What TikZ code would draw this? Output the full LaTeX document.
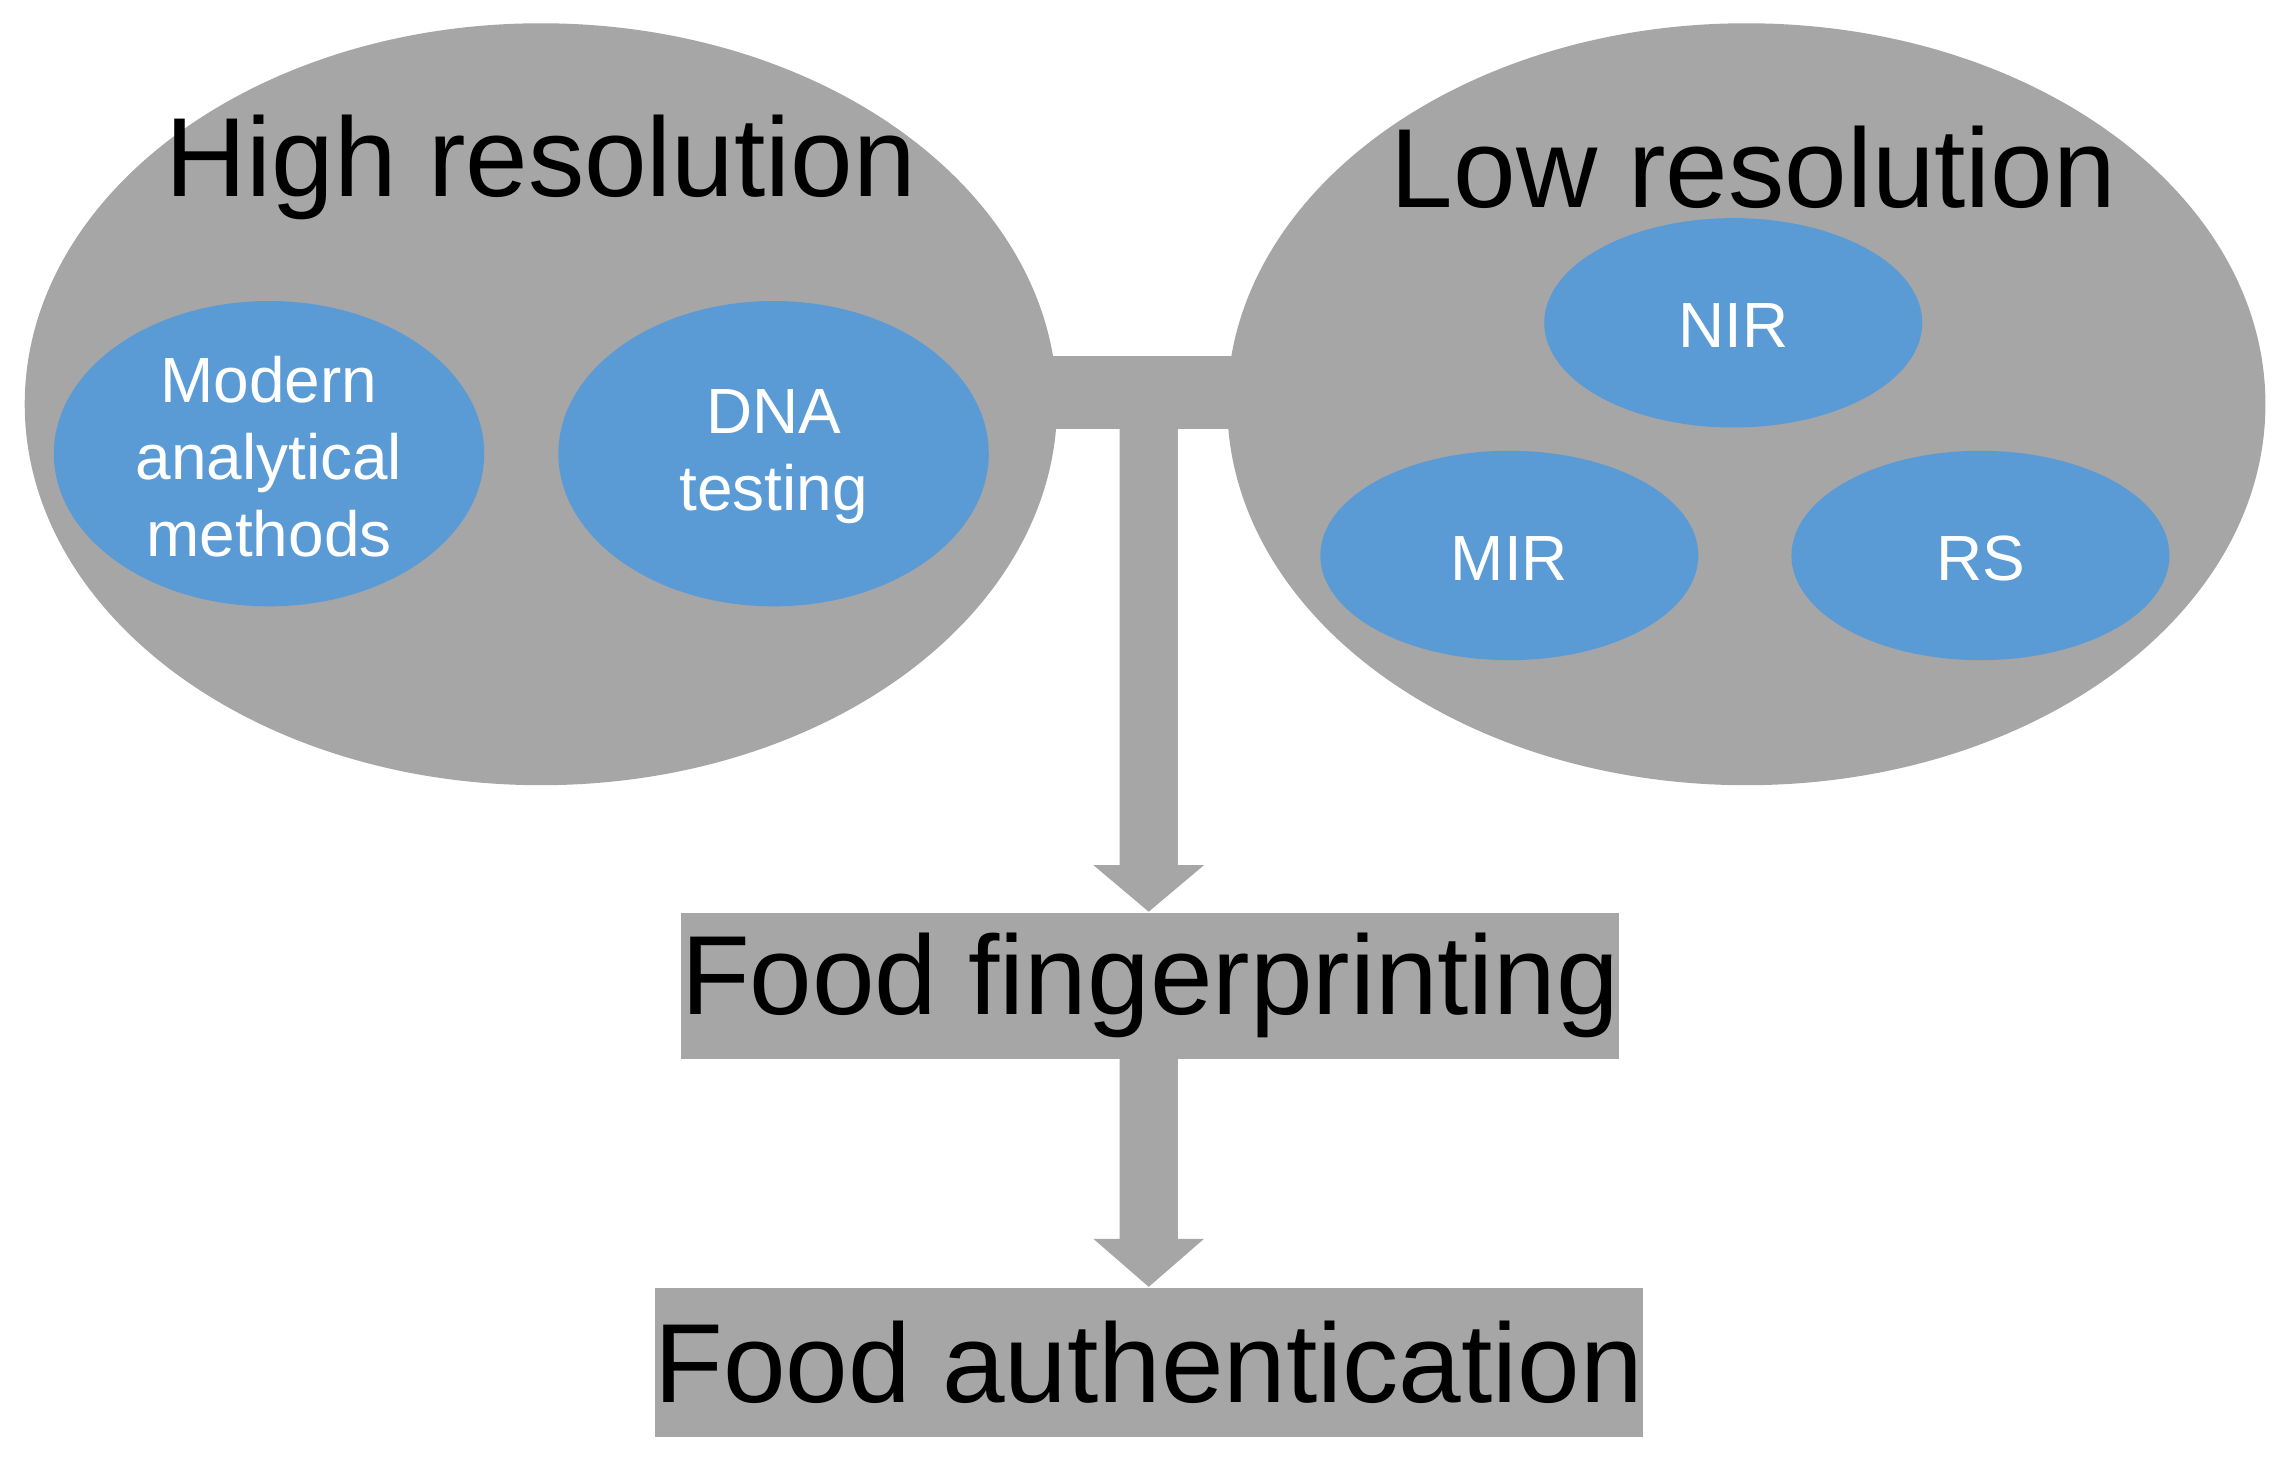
\documentclass[tikz,border=0pt]{standalone}
\usepackage{fontspec}
\setmainfont{Liberation Sans}
\definecolor{gr}{HTML}{A6A6A6}
\definecolor{bl}{HTML}{5B9BD5}
\begin{document}
\begin{tikzpicture}[x=0.01cm,y=-0.01cm,
  big/.style={fill=gr,draw=none},
  small/.style={fill=bl,draw=none},
  wt/.style={text=white,font=\fontsize{12.5}{15}\selectfont,align=center},
  title/.style={font=\fontsize{22}{26}\selectfont},
  box/.style={fill=gr,inner sep=0pt,font=\fontsize{22}{26}\selectfont}]
\useasboundingbox (0,0) rectangle (1568,1003);
% bar and arrows
\fill[gr] (700,245) rectangle (870,295);
\fill[gr] (770,290) -- (810,290) -- (810,595) -- (828,595) -- (790,627) -- (752,595) -- (770,595) -- cycle;
\fill[gr] (770,725) -- (810,725) -- (810,852) -- (828,852) -- (790,885) -- (752,852) -- (770,852) -- cycle;
\fill[big] (372,278) ellipse [x radius=355, y radius=262];
\fill[big] (1201,278) ellipse [x radius=357, y radius=262];
\node[title] (hr) at (372,115) {High resolution};
\node[title] (lr) at (1206,115) {Low resolution};
\fill[small] (185,312) ellipse [x radius=148, y radius=105];
\fill[small] (532,312) ellipse [x radius=148, y radius=105];
\fill[small] (1192,222) ellipse [x radius=130, y radius=72];
\fill[small] (1038,382) ellipse [x radius=130, y radius=72];
\fill[small] (1362,382) ellipse [x radius=130, y radius=72];
\node[wt] (m) at (185,314) {Modern\\analytical\\methods};
\node[wt] (d) at (532,314) {DNA\\testing};
\node[wt] (n) at (1192,224) {NIR};
\node[wt] (mi) at (1038,384) {MIR};
\node[wt] (r) at (1362,384) {RS};
\node[box,minimum width=6.42cm,minimum height=1.0cm] (ff) at (791,678) {Food fingerprinting};
\node[box,minimum width=6.75cm,minimum height=1.02cm] (fa) at (790,937) {Food authentication};
\end{tikzpicture}
\end{document}
